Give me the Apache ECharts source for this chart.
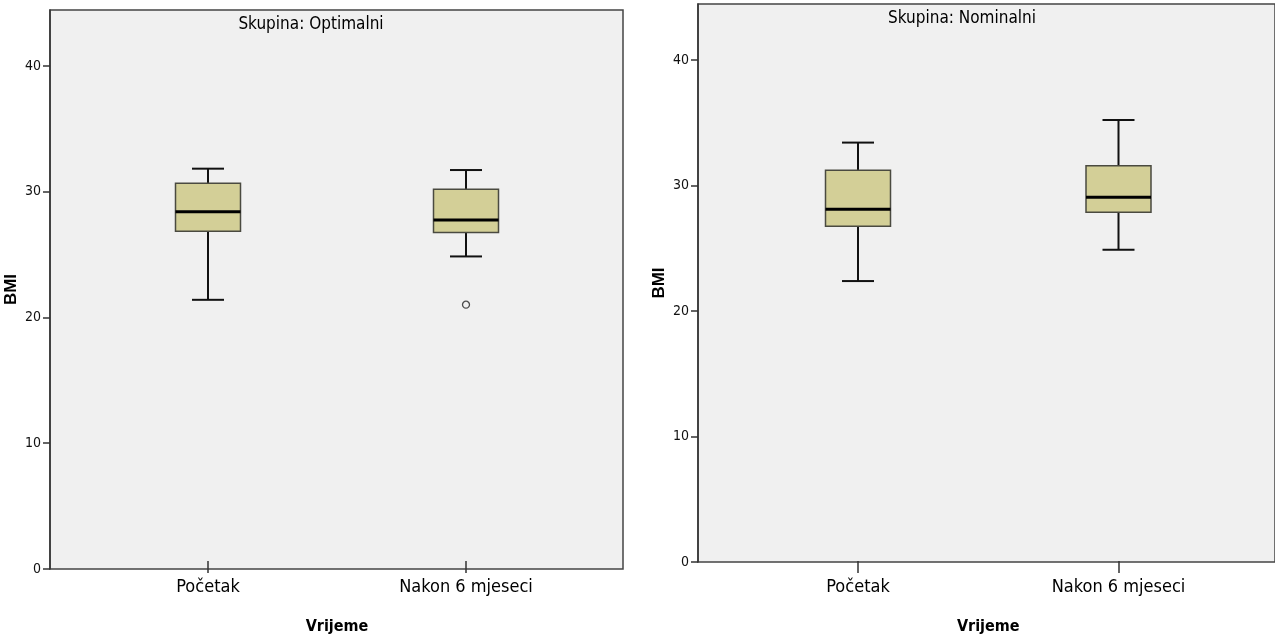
<!DOCTYPE html>
<html>
<head>
<meta charset="utf-8">
<script src="https://cdn.jsdelivr.net/npm/echarts@6/dist/echarts.min.js"></script>
<style>html,body{margin:0;padding:0;background:#fff;}#c{width:1275px;height:640px;}</style>
</head>
<body>
<div id="c"></div>
<script>
const categories = ['Početak', 'Nakon 6 mjeseci'];
const yTicks = [0, 10, 20, 30, 40];
const yMax = 44.45;

// Skupina: Optimalni
const optMin = [21.07, 24.57];
const optQ1 = [26.61, 26.51];
const optMed = [28.18, 27.51];
const optQ3 = [30.48, 29.98];
const optMax = [31.65, 31.54];
const optOutliers = [[1, 20.68]];

// Skupina: Nominalni
const nomMin = [22.34, 24.84];
const nomQ1 = [26.72, 27.83];
const nomMed = [28.07, 29.03];
const nomQ3 = [31.18, 31.55];
const nomMax = [33.39, 35.19];

const FONT = "'Liberation Sans Narrow', 'Arial Narrow', 'DejaVu Sans Condensed', 'Liberation Sans', sans-serif";
const FONT_B = "'Liberation Sans', Arial, sans-serif";

function rows(mn, q1, md, q3, mx) {
  return categories.map((c, i) => [i, mn[i], q1[i], md[i], q3[i], mx[i]]);
}

function renderBox(params, api) {
  const x = api.value(0);
  const pMin = api.coord([x, api.value(1)]);
  const pQ1 = api.coord([x, api.value(2)]);
  const pMed = api.coord([x, api.value(3)]);
  const pQ3 = api.coord([x, api.value(4)]);
  const pMax = api.coord([x, api.value(5)]);
  const cx = pMed[0];
  const bw = 65, cw = 32;
  const lineStyle = { stroke: '#111', lineWidth: 2 };
  return {
    type: 'group',
    children: [
      { type: 'line', shape: { x1: cx, y1: pQ3[1], x2: cx, y2: pMax[1] }, style: lineStyle },
      { type: 'line', shape: { x1: cx, y1: pQ1[1], x2: cx, y2: pMin[1] }, style: lineStyle },
      { type: 'line', shape: { x1: cx - cw / 2, y1: pMax[1], x2: cx + cw / 2, y2: pMax[1] }, style: lineStyle },
      { type: 'line', shape: { x1: cx - cw / 2, y1: pMin[1], x2: cx + cw / 2, y2: pMin[1] }, style: lineStyle },
      { type: 'rect', shape: { x: cx - bw / 2, y: pQ3[1], width: bw, height: pQ1[1] - pQ3[1] },
        style: { fill: '#d3cf97', stroke: '#4a4a40', lineWidth: 1.5 } },
      { type: 'line', shape: { x1: cx - bw / 2, y1: pMed[1], x2: cx + bw / 2, y2: pMed[1] },
        style: { stroke: '#000', lineWidth: 3 } }
    ]
  };
}

function frameY(gi) {
  return {
    type: 'value', gridIndex: gi, min: 0, max: yMax, interval: 10,
    splitLine: { show: false },
    axisLine: { show: true, lineStyle: { color: '#333', width: 1.5 } },
    axisTick: { show: true, length: 7, customValues: yTicks, lineStyle: { color: '#333', width: 1.5 } },
    axisLabel: { color: '#111', fontSize: 14, fontFamily: FONT, margin: 9, customValues: yTicks },
    name: 'BMI', nameLocation: 'middle', nameRotate: 90, nameGap: 30,
    nameTextStyle: { fontSize: 17, fontWeight: 'bold', color: '#000', fontFamily: FONT_B }
  };
}
function hiddenY(gi) {
  return { type: 'value', gridIndex: gi, min: 0, max: yMax, interval: 10, show: false, splitLine: { show: false } };
}
function boxX(gi) {
  return {
    type: 'category', gridIndex: gi, data: categories, boundaryGap: true,
    axisLine: { show: false },
    axisTick: { show: true, alignWithLabel: true, length: 12, lineStyle: { color: '#333', width: 1.5 } },
    axisLabel: { color: '#000', fontSize: 18, fontFamily: FONT, margin: 17 },
    name: 'Vrijeme', nameLocation: 'middle', nameGap: 58,
    nameTextStyle: { fontSize: 16, fontWeight: 'bold', color: '#000', fontFamily: FONT }
  };
}

const chart = echarts.init(document.getElementById('c'), null, { renderer: 'canvas' });
chart.setOption({
  backgroundColor: '#ffffff',
  animation: false,
  grid: [
    { left: 50, top: 10, width: 573, height: 559, show: true, backgroundColor: '#f0f0f0', borderColor: '#444', borderWidth: 1.5 },
    { left: 79, top: 10, width: 516, height: 559 },
    { left: 698, top: 4, width: 586, height: 558, show: true, backgroundColor: '#f0f0f0', borderColor: '#444', borderWidth: 1.5 },
    { left: 727.75, top: 4, width: 521, height: 558 }
  ],
  xAxis: [
    { type: 'value', gridIndex: 0, show: false, splitLine: { show: false } },
    boxX(1),
    { type: 'value', gridIndex: 2, show: false, splitLine: { show: false } },
    boxX(3)
  ],
  yAxis: [frameY(0), hiddenY(1), frameY(2), hiddenY(3)],
  graphic: [
    { type: 'text', x: 311, y: 25, style: { text: 'Skupina: Optimalni', textAlign: 'center', textVerticalAlign: 'middle', font: '17px ' + FONT, fill: '#000' } },
    { type: 'text', x: 962, y: 19, style: { text: 'Skupina: Nominalni', textAlign: 'center', textVerticalAlign: 'middle', font: '17px ' + FONT, fill: '#000' } }
  ],
  series: [
    { type: 'custom', xAxisIndex: 1, yAxisIndex: 1, renderItem: renderBox,
      encode: { x: 0, y: [1, 2, 3, 4, 5] }, data: rows(optMin, optQ1, optMed, optQ3, optMax) },
    { type: 'scatter', xAxisIndex: 1, yAxisIndex: 1, symbol: 'circle', symbolSize: 7,
      itemStyle: { color: '#f0f0f0', borderColor: '#222', borderWidth: 1.3 }, data: optOutliers },
    { type: 'custom', xAxisIndex: 3, yAxisIndex: 3, renderItem: renderBox,
      encode: { x: 0, y: [1, 2, 3, 4, 5] }, data: rows(nomMin, nomQ1, nomMed, nomQ3, nomMax) }
  ]
});
</script>
</body>
</html>
